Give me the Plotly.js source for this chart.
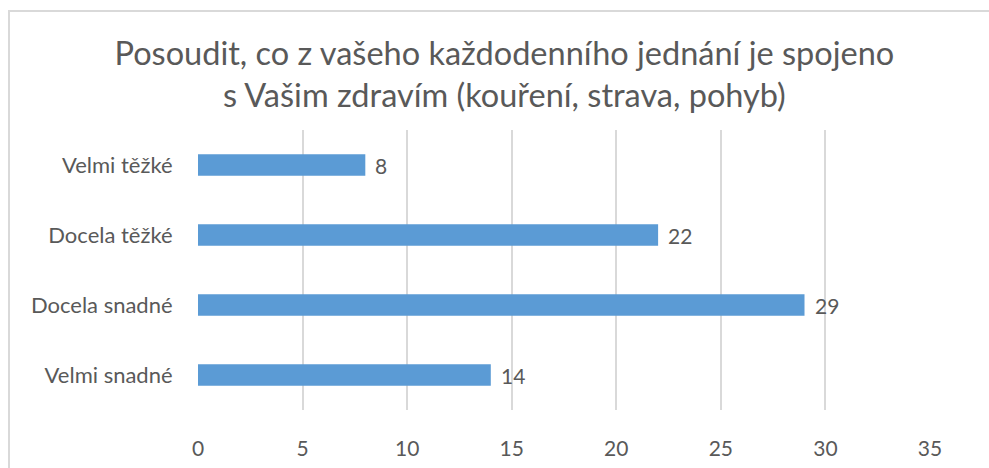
<!DOCTYPE html>
<html>
<head>
<meta charset="utf-8">
<script src="https://cdn.plot.ly/plotly-3.0.1.min.js"></script>
<style>
html,body{margin:0;padding:0;background:#fff;}
#wrap{position:relative;width:989px;height:468px;overflow:hidden;}
#chart{width:989px;height:468px;}
#frame{position:absolute;left:8px;top:10px;width:1000px;height:500px;border:2px solid #d9d9d9;box-sizing:border-box;pointer-events:none;}
</style>
</head>
<body>
<div id="wrap"><div id="chart"></div><div id="frame"></div></div>
<script>
var categories = ["Velmi těžké", "Docela těžké", "Docela snadné", "Velmi snadné"];
var values = [8, 22, 29, 14];
var tickVals = [0, 5, 10, 15, 20, 25, 30, 35];
var titleText = "Posoudit, co z vašeho každodenního jednání je spojeno<br>s Vašim zdravím (kouření, strava, pohyb)";

var FONT = "Lato, 'Open Sans', 'Noto Sans', sans-serif";
var TXT = "#595959";

var trace = {
  type: "bar",
  orientation: "h",
  x: values,
  y: categories,
  marker: {color: "#5b9bd5"},
  width: 0.31,
  hoverinfo: "none"
};

var annotations = values.map(function(v, i){
  return {x: v, y: categories[i], xref: "x", yref: "y", text: String(v),
    showarrow: false, xanchor: "left", xshift: 8,
    font: {family: FONT, size: 21, color: TXT}};
});

var layout = {
  width: 989, height: 468,
  margin: {l: 198, r: 59, t: 130, b: 58},
  paper_bgcolor: "#fff", plot_bgcolor: "#fff",
  showlegend: false,
  title: {text: titleText, font: {family: FONT, size: 32.5, color: TXT},
    x: 0.51, xanchor: "center", y: 0.862, yanchor: "top"},
  xaxis: {range: [0, 35], tickvals: tickVals, showgrid: true, gridcolor: "#d9d9d9", gridwidth: 2,
    zeroline: false, showline: false, ticks: "outside", ticklen: 20, tickcolor: "rgba(0,0,0,0)",
    tickfont: {family: FONT, size: 21, color: TXT}, fixedrange: true},
  yaxis: {type: "category", autorange: "reversed", showgrid: false, zeroline: false, showline: false,
    ticks: "outside", ticklen: 20, tickcolor: "rgba(0,0,0,0)",
    tickfont: {family: FONT, size: 22, color: TXT}, fixedrange: true},
  annotations: annotations
};

Plotly.newPlot("chart", [trace], layout, {staticPlot: true, displayModeBar: false});
</script>
</body>
</html>
